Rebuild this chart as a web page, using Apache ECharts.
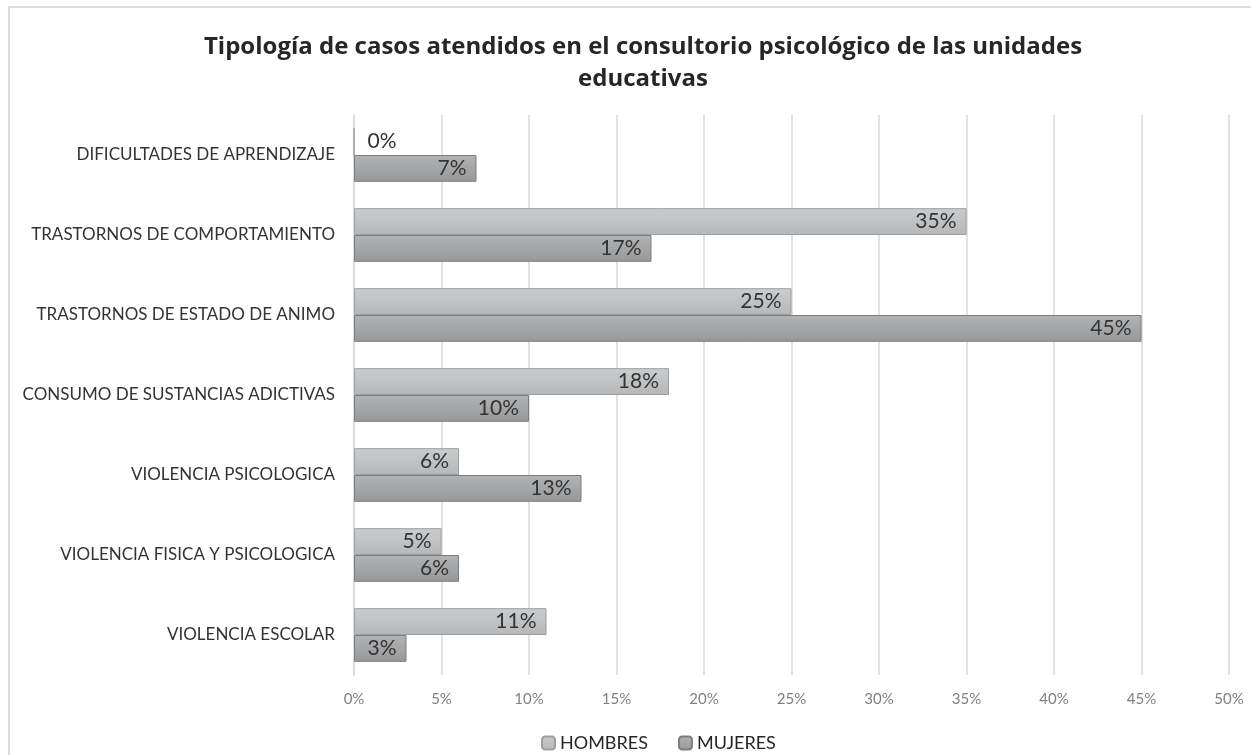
<!DOCTYPE html>
<html>
<head>
<meta charset="utf-8">
<script src="https://cdn.jsdelivr.net/npm/echarts@6/dist/echarts.min.js"></script>
<style>
  html, body { margin: 0; padding: 0; background: #fff; }
  #frame {
    position: absolute; left: 8px; top: 6px; width: 1260px; height: 770px;
    border-top: 2px solid #dcdcdc; border-left: 2px solid #dcdcdc;
  }
  #chart { position: absolute; left: 0; top: 0; width: 1251px; height: 755px; }
</style>
</head>
<body>
<div id="frame"></div>
<div id="chart"></div>
<script>
// categorias de arriba hacia abajo
const categorias = [
  'DIFICULTADES DE APRENDIZAJE',
  'TRASTORNOS DE COMPORTAMIENTO',
  'TRASTORNOS DE ESTADO DE ANIMO',
  'CONSUMO DE SUSTANCIAS ADICTIVAS',
  'VIOLENCIA PSICOLOGICA',
  'VIOLENCIA FISICA Y PSICOLOGICA',
  'VIOLENCIA ESCOLAR'
]
const hombres = [0, 35, 25, 18, 6, 5, 11]
const mujeres = [7, 17, 45, 10, 13, 6, 3]

const chart = echarts.init(document.getElementById('chart'))

// relleno con degradado vertical, como en la hoja original
function relleno(top, bottom) {
  return new echarts.graphic.LinearGradient(0, 0, 0, 1, [
    { offset: 0, color: top },
    { offset: 1, color: bottom }
  ])
}

// si el valor es 0 la etiqueta va a la derecha del eje
function datos(arr) {
  return arr.map(v => v === 0 ? { value: v, label: { position: 'right', distance: 13 } } : v)
}

const etiqueta = {
  show: true,
  position: 'insideRight',
  distance: 10,
  formatter: p => p.value + '%',
  fontFamily: 'Lato',
  fontSize: 21,
  color: '#333'
}

chart.setOption({
  animation: false,
  title: {
    text: 'Tipología de casos atendidos en el consultorio psicológico de las unidades\neducativas',
    left: 638,
    textAlign: 'center',
    top: 26,
    textStyle: {
      fontFamily: 'Open Sans',
      fontWeight: 'bold',
      fontSize: 24,
      lineHeight: 32,
      color: '#262626'
    }
  },
  legend: {
    top: 729,
    left: 536,
    itemWidth: 13,
    itemHeight: 13,
    itemGap: 30,
    textStyle: { fontFamily: 'Lato', fontSize: 18, color: '#262626' },
    data: ['HOMBRES', 'MUJERES']
  },
  grid: { left: 354, right: 22, top: 115, bottom: 80 },
  xAxis: {
    type: 'value',
    min: 0,
    max: 50,
    interval: 5,
    axisLine: { show: false },
    axisTick: { show: false },
    axisLabel: {
      formatter: '{value}%',
      margin: 17,
      fontFamily: 'Lato',
      fontSize: 15,
      color: '#808080'
    },
    splitLine: { lineStyle: { color: '#d9d9d9', width: 1.5 } }
  },
  yAxis: {
    type: 'category',
    inverse: true,
    data: categorias,
    axisLine: { show: true, lineStyle: { color: '#d9d9d9', width: 1.5 } },
    axisTick: { show: false },
    axisLabel: {
      margin: 19,
      fontFamily: 'Lato',
      fontSize: 17,
      color: '#333'
    }
  },
  series: [
    {
      name: 'HOMBRES',
      type: 'bar',
      data: datos(hombres),
      barGap: '0%',
      barCategoryGap: '33%',
      itemStyle: {
        color: relleno('#cbcccd', '#b6b7b9'),
        borderColor: '#9d9e9f',
        borderWidth: 1
      },
      label: etiqueta
    },
    {
      name: 'MUJERES',
      type: 'bar',
      data: datos(mujeres),
      barGap: '0%',
      barCategoryGap: '33%',
      itemStyle: {
        color: relleno('#b2b3b5', '#97989a'),
        borderColor: '#7c7d7f',
        borderWidth: 1
      },
      label: etiqueta
    }
  ]
})
</script>
</body>
</html>
